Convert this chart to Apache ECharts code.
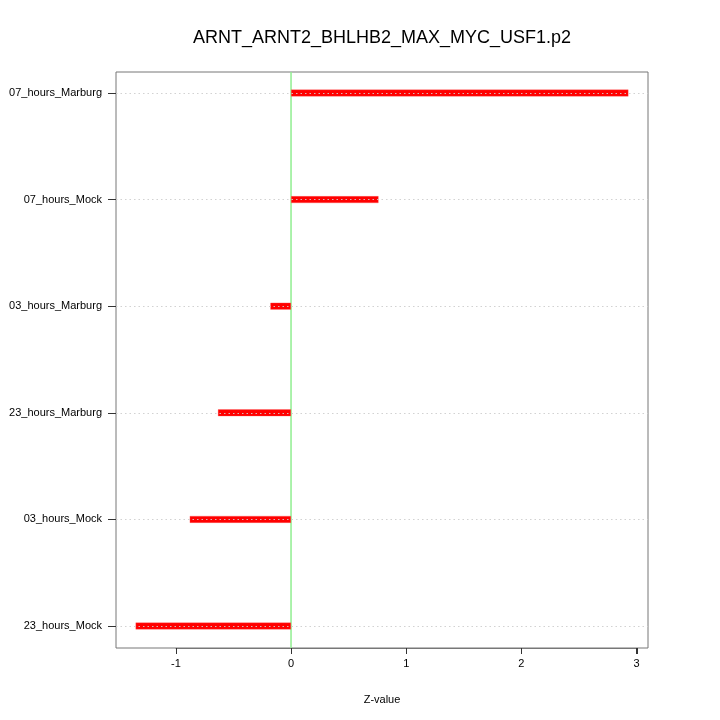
<!DOCTYPE html>
<html>
<head>
<meta charset="utf-8">
<script src="https://cdn.jsdelivr.net/npm/echarts@6/dist/echarts.min.js"></script>
<style>
html,body{margin:0;padding:0;background:#fff;}
#main{width:720px;height:720px;}
</style>
</head>
<body>
<div id="main"></div>
<script>
const categories = ['23_hours_Mock','03_hours_Mock','23_hours_Marburg','03_hours_Marburg','07_hours_Mock','07_hours_Marburg'];
const zValues = [-1.35, -0.88, -0.635, -0.18, 0.76, 2.93];
const xTicks = [-1, 0, 1, 2, 3];
const titleText = 'ARNT_ARNT2_BHLHB2_MAX_MYC_USF1.p2';
const xName = 'Z-value';

const font = 'Liberation Sans, Arial, Helvetica, sans-serif';
const xMin = -1.52, xMax = 3.10;

const chart = echarts.init(document.getElementById('main'), null, {renderer:'canvas'});
chart.setOption({
  animation: false,
  backgroundColor: '#ffffff',
  title: {
    text: titleText, left: 377, top: 24, textAlign: 'center',
    textStyle: {fontFamily: font, fontSize: 18, fontWeight: 'normal', color: '#000'}
  },
  grid: [
    {left: 116, right: 72, top: 72, bottom: 72, show: true, borderColor: '#777', borderWidth: 1, backgroundColor: 'transparent'},
    {left: 176, right: 83.5, top: 72, bottom: 72, show: false},
    {left: 116, right: 72, top: 93, bottom: 94, show: false}
  ],
  xAxis: [
    {
      type: 'value', gridIndex: 0, min: xMin, max: xMax, position: 'bottom',
      name: xName, nameLocation: 'middle', nameGap: 46,
      nameTextStyle: {fontFamily: font, fontSize: 11, color: '#000'},
      axisLine: {show: false, onZero: false},
      axisTick: {show: false},
      axisLabel: {show: false},
      splitLine: {show: false}
    },
    {
      type: 'value', gridIndex: 1, min: xTicks[0], max: xTicks[xTicks.length - 1], interval: 1, position: 'bottom',
      axisLine: {show: true, onZero: false, lineStyle: {color: '#777'}},
      axisTick: {show: true, inside: false, length: 6, lineStyle: {color: '#333', width: 1}},
      axisLabel: {fontFamily: font, fontSize: 11, color: '#000', margin: 10},
      splitLine: {show: false}
    },
    {
      type: 'value', gridIndex: 2, min: xMin, max: xMax, show: false
    }
  ],
  yAxis: [
    {type: 'value', gridIndex: 0, min: 0, max: 1, show: false},
    {type: 'value', gridIndex: 1, min: 0, max: 1, show: false},
    {
      type: 'category', gridIndex: 2, data: categories, boundaryGap: false, position: 'left',
      axisLine: {show: false, onZero: false},
      axisTick: {show: true, length: 8, lineStyle: {color: '#333'}},
      axisLabel: {fontFamily: font, fontSize: 11, color: '#000', margin: 14},
      splitLine: {show: false}
    }
  ],
  series: [
    {
      type: 'line', xAxisIndex: 0, yAxisIndex: 0,
      data: [[0, 0], [0, 1]], symbol: 'none', silent: true,
      lineStyle: {color: '#90ee90', width: 1.5}, z: 1
    },
    {
      type: 'custom', xAxisIndex: 1, yAxisIndex: 1, clip: false, silent: true,
      data: xTicks.map(v => [v]),
      encode: {x: 0},
      renderItem: function (params, api) {
        const p = api.coord([api.value(0), 0]);
        const x = Math.round(p[0]) + 0.5;
        return {
          type: 'line',
          shape: {x1: x, y1: p[1], x2: x, y2: p[1] + 6},
          style: {stroke: '#333', lineWidth: 1}
        };
      },
      z: 3
    },
    {
      type: 'bar', xAxisIndex: 2, yAxisIndex: 2,
      data: zValues, barWidth: 7,
      itemStyle: {color: '#ff0000', borderColor: 'rgba(255,90,90,0.6)', borderWidth: 0.5},
      markLine: {
        silent: true, symbol: 'none', label: {show: false},
        lineStyle: {color: 'rgba(205,205,205,0.9)', type: [1.5, 3], width: 1},
        data: categories.map(c => ({yAxis: c}))
      },
      z: 2
    }
  ]
});
</script>
</body>
</html>
